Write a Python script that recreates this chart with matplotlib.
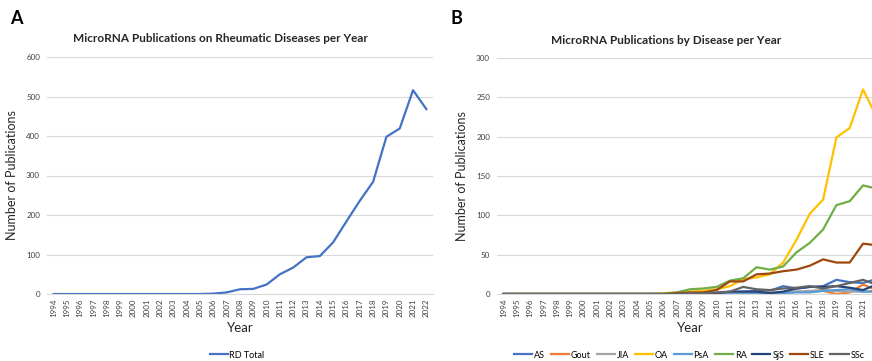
import numpy as np
import matplotlib
matplotlib.use("Agg")
from matplotlib import pyplot as plt

plt.rcParams['font.family'] = ['Lato', 'DejaVu Sans']

years = list(range(1994, 2023))
year_labels = [str(y) for y in years]

# total rheumatic disease publications per year
rd_total = [0, 0, 0, 0, 0, 0, 0, 0, 0, 0, 0, 0, 1, 4, 12, 13, 24, 50, 67, 93, 96,
            131, 184, 236, 284, 398, 419, 516, 468]

# publications per disease per year
diseases = ['AS', 'Gout', 'JIA', 'OA', 'PsA', 'RA', 'SjS', 'SLE', 'SSc']
pad = [0] * 13  # 1994-2006
as_ = pad + [0, 0, 0, 1, 2, 3, 4, 4, 10, 7, 9, 10, 18, 15, 14, 19]
gout = pad + [0, 0, 0, 0, 1, 1, 2, 1, 2, 3, 3, 4, 0, 2, 12, 5]
jia = pad + [0, 0, 0, 0, 1, 1, 2, 2, 2, 3, 4, 5, 4, 3, 3, 4]
oa = [0] * 12 + [1, 2, 3, 4, 6, 10, 19, 21, 25, 40, 69, 102, 120, 199, 211, 260, 226]
psa = pad + [0, 0, 0, 0, 0, 0, 0, 0, 1, 2, 2, 4, 5, 6, 3, 3]
ra = pad + [2, 6, 7, 9, 17, 20, 34, 31, 35, 53, 65, 82, 113, 118, 138, 134]
sjs = pad + [0, 0, 0, 1, 3, 3, 3, 1, 3, 7, 9, 9, 10, 8, 5, 12]
sle = pad + [1, 2, 2, 5, 16, 16, 25, 26, 29, 31, 36, 44, 40, 40, 64, 62]
ssc = pad + [0, 1, 1, 2, 3, 9, 6, 5, 7, 8, 10, 7, 10, 14, 18, 12]
series_b = [as_, gout, jia, oa, psa, ra, sjs, sle, ssc]

colors = ['#4472C4', '#ED7D31', '#A5A5A5', '#FFC000', '#5B9BD5', '#70AD47',
          '#264478', '#9E480E', '#636363']

W, H = 872, 361
fig = plt.figure(figsize=(W / 100, H / 100), dpi=100)


def px_axes(x0, y0, x1, y1):
    return fig.add_axes([x0 / W, 1 - y1 / H, (x1 - x0) / W, (y1 - y0) / H])


def style(ax, ymax, step):
    x = np.arange(len(years))
    ax.set_xlim(-0.5, len(years) - 0.5)
    ax.set_ylim(0, ymax)
    ax.set_yticks(np.arange(0, ymax + 1, step))
    ax.set_xticks(x)
    ax.set_xticklabels(year_labels, rotation=90, fontsize=5.8, color='#404040')
    ax.tick_params(axis='y', labelsize=5.8, labelcolor='#404040', length=0, pad=5)
    ax.tick_params(axis='x', length=0, pad=3)
    ax.grid(axis='y', color='#D9D9D9', linewidth=0.8)
    ax.set_axisbelow(True)
    for s in ['top', 'right', 'left']:
        ax.spines[s].set_visible(False)
    ax.spines['bottom'].set_color('#D9D9D9')
    ax.spines['bottom'].set_linewidth(0.8)
    ax.set_xlabel('Year', fontsize=9.5, color='#262626', labelpad=4)
    ax.set_ylabel('Number of Publications', fontsize=9, color='#262626', labelpad=6)
    ax.set_facecolor('none')


# panel A
axA = px_axes(47, 57, 433, 294)
axA.plot(np.arange(len(years)), rd_total, color='#4472C4', lw=1.6, label='RD Total')
style(axA, 600, 100)
axA.legend(loc='center', bbox_to_anchor=(237 / W, 1 - 355 / H), bbox_transform=fig.transFigure,
           frameon=False, fontsize=6.5, handlelength=2.0, handletextpad=0.2)
fig.text(220 / W, 1 - 38 / H, 'MicroRNA Publications on Rheumatic Diseases per Year',
         ha='center', va='center', fontsize=8.5, fontweight='bold', color='#262626')
fig.text(10 / W, 1 - 18 / H, 'A', fontsize=13, fontweight='bold', va='center')

# panel B, runs past the right edge of the figure
axB = px_axes(497, 58, 883, 294)
for name, vals, c in zip(diseases, series_b, colors):
    axB.plot(np.arange(len(years)), vals, color=c, lw=1.6, label=name)
style(axB, 300, 50)
axB.legend(loc='center left', bbox_to_anchor=(506 / W, 1 - 355 / H), bbox_transform=fig.transFigure,
           frameon=False, fontsize=6.5, ncol=9, handlelength=2.0, handletextpad=0.2,
           columnspacing=0.65)
fig.text(666 / W, 1 - 40 / H, 'MicroRNA Publications by Disease per Year',
         ha='center', va='center', fontsize=8.5, fontweight='bold', color='#262626')
fig.text(450 / W, 1 - 18 / H, 'B', fontsize=13, fontweight='bold', va='center')

fig.savefig('out.png', dpi=100)
